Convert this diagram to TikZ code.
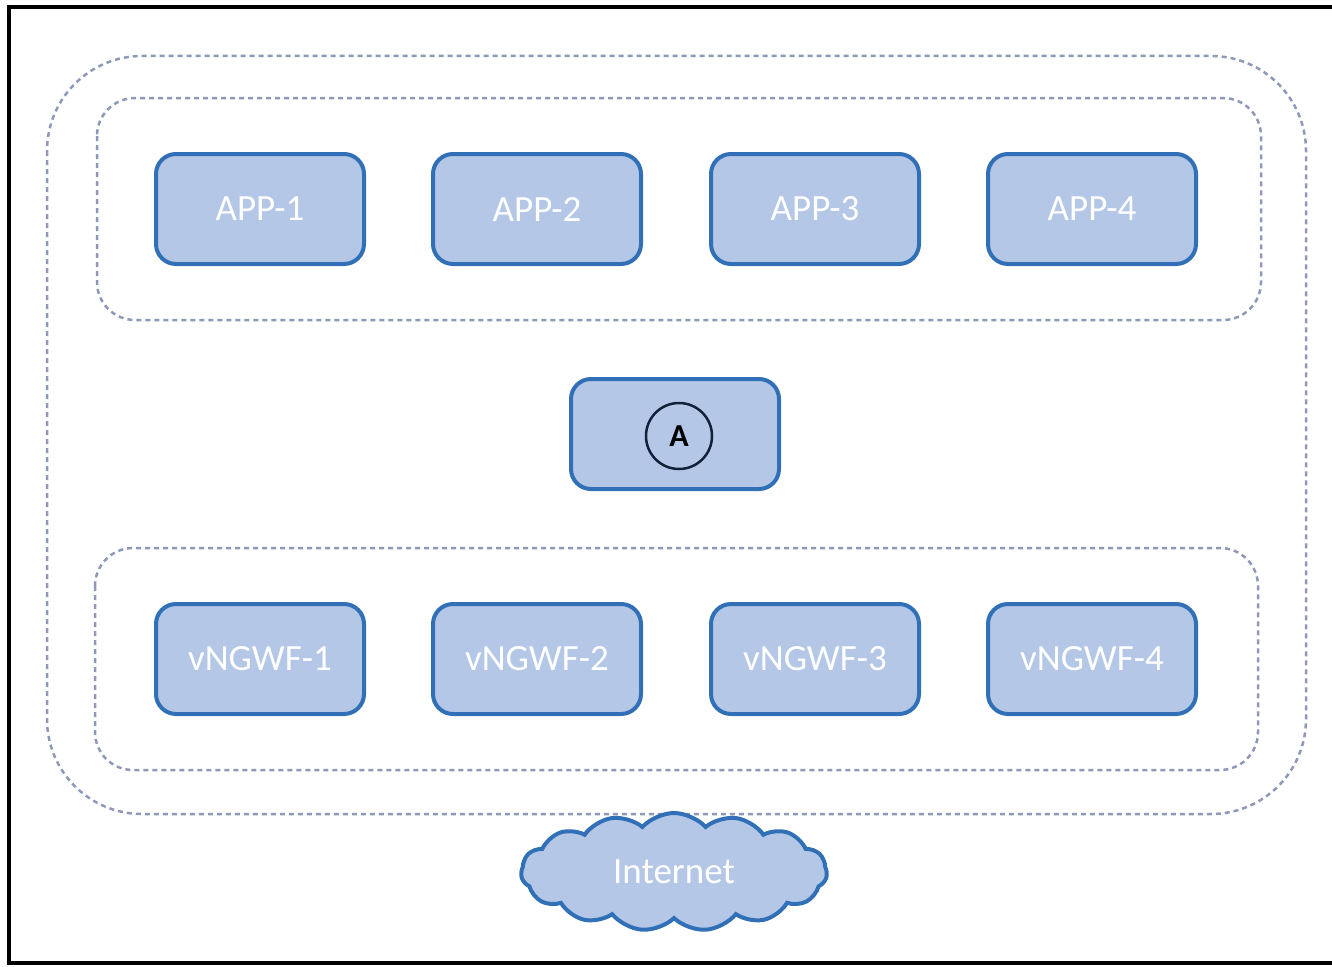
\documentclass[tikz,border=0pt]{standalone}
\usepackage{fontspec}
\setmainfont{Carlito}
\usetikzlibrary{shapes.symbols}
\definecolor{boxfill}{HTML}{B4C7E7}
\definecolor{boxedge}{HTML}{3170B6}
\definecolor{dashcol}{HTML}{8E98B8}
\tikzset{
  appbox/.style={draw=boxedge, fill=boxfill, line width=4pt, rounded corners=20pt,
    minimum width=208pt, minimum height=110pt, inner sep=0pt,
    text=white, font=\fontsize{37}{42}\selectfont},
  grp/.style={draw=dashcol, line width=2.5pt, dash pattern=on 5pt off 4pt},
  frame/.style={draw=black, line width=4pt},
}
\begin{document}
\begin{tikzpicture}[x=1pt,y=-1pt]
\useasboundingbox (0,0) rectangle (1332,966);
% frame (right side cut off)
\draw[frame] (1340,7) -- (9,7) -- (9,963) -- (1340,963);
% groups
\draw[grp, rounded corners=95pt] (47,56) rectangle (1306,814);
\draw[grp, rounded corners=38pt] (97,98) rectangle (1261,320);
\draw[grp, rounded corners=38pt] (95,548) rectangle (1258,770);
% apps
\node[appbox] (app1) at (260,209) {APP-1};
\node[appbox] (app2) at (537,209) {APP-2};
\node[appbox] (app3) at (815,209) {APP-3};
\node[appbox] (app4) at (1092,209) {APP-4};
% A
\node[appbox] (abox) at (675,434) {};
\node[circle, draw=black!70!boxedge, line width=2.5pt, minimum size=66pt, inner sep=0pt,
      font=\fontsize{32}{36}\selectfont\bfseries] (acirc) at (679,436) {A};
% vNGWF
\node[appbox] (fw1) at (260,659) {vNGWF-1};
\node[appbox] (fw2) at (537,659) {vNGWF-2};
\node[appbox] (fw3) at (815,659) {vNGWF-3};
\node[appbox] (fw4) at (1092,659) {vNGWF-4};
% internet
\node[cloud, cloud puffs=15, cloud puff arc=95, aspect=3.2, draw=boxedge, fill=boxfill,
      line width=4pt, minimum width=306pt, minimum height=118pt, inner sep=0pt,
      text=white, font=\fontsize{37}{42}\selectfont] (inet) at (674,872) {Internet};
\end{tikzpicture}
\end{document}
